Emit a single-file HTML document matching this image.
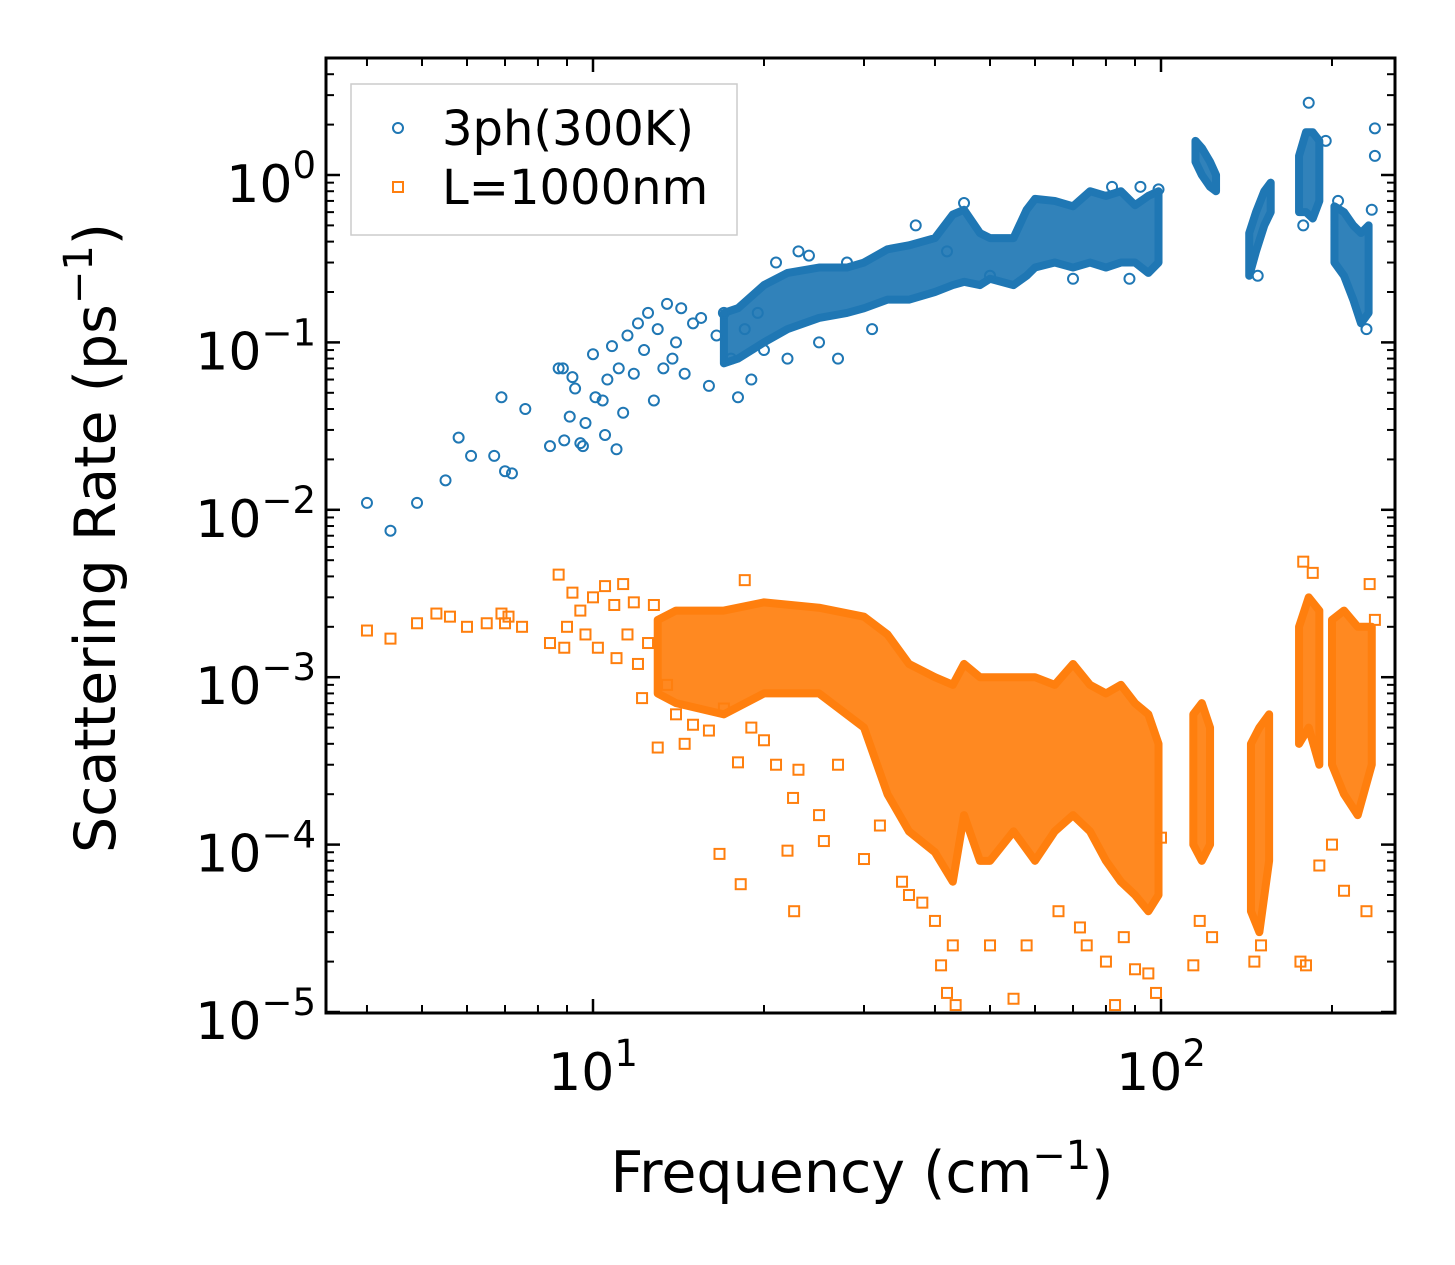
<!DOCTYPE html>
<html><head><meta charset="utf-8"><style>
body{margin:0;background:#fff}
svg{display:block;font-family:"DejaVu Sans","Liberation Sans",sans-serif}
</style></head><body>
<svg id="chart" width="1455" height="1265" viewBox="0 0 1455 1265" xmlns="http://www.w3.org/2000/svg">
<rect width="1455" height="1265" fill="#fff"/>
<g id="bands"></g><g id="points"></g><g id="axes"></g>
<text x="862" y="1192" font-size="57" text-anchor="middle">Frequency (cm<tspan dy="-23" font-size="40">−1</tspan><tspan dy="23">)</tspan></text>
<text transform="translate(115,538) rotate(-90)" font-size="57" text-anchor="middle">Scattering Rate (ps<tspan dy="-23" font-size="40">−1</tspan><tspan dy="23">)</tspan></text>
<g>
<rect x="351" y="84" width="386" height="151" fill="#fff" stroke="#ccc" stroke-width="1.5"/>
<circle cx="398" cy="128" r="5" fill="none" stroke="#1f77b4" stroke-width="2"/>
<text x="442" y="145" font-size="48">3ph(300K)</text>
<rect x="393" y="182" width="10" height="10" fill="none" stroke="#ff7f0e" stroke-width="2"/>
<text x="442" y="204" font-size="48">L=1000nm</text>
</g>
</svg>
<script>
const blueBand=[[17,0.075,0.15],[18,0.08,0.16],[20,0.1,0.22],[22,0.12,0.26],[25,0.14,0.28],[28,0.15,0.28],[30,0.16,0.3],[33,0.18,0.36],[36,0.18,0.38],[40,0.2,0.42],[43,0.22,0.58],[45,0.23,0.62],[48,0.22,0.45],[50,0.24,0.42],[55,0.22,0.42],[58,0.25,0.62],[60,0.28,0.72],[65,0.3,0.7],[70,0.28,0.65],[75,0.3,0.8],[80,0.28,0.75],[85,0.3,0.8],[90,0.3,0.66],[95,0.26,0.75],[99,0.3,0.8]];
const blueClusters=[[[115,1.2,1.6],[118,1.0,1.45],[122,0.85,1.2],[125,0.8,1.0]],[[143,0.25,0.45],[147,0.35,0.6],[152,0.5,0.8],[156,0.6,0.9]],[[175,0.6,1.3],[180,0.6,1.8],[185,0.55,1.8],[190,0.7,1.6]],[[202,0.3,0.65],[210,0.25,0.6],[218,0.18,0.5],[225,0.13,0.45],[232,0.15,0.5]]];
const orangeBand=[[13,0.0008,0.0022],[14,0.0007,0.0025],[17,0.0006,0.0025],[20,0.0008,0.0028],[25,0.0008,0.0026],[30,0.0005,0.0023],[33,0.0002,0.0018],[36,0.00012,0.0012],[40,0.00009,0.001],[43,0.00006,0.0009],[45,0.00015,0.0012],[48,0.00008,0.001],[50,0.00008,0.001],[55,0.00012,0.001],[60,0.00008,0.001],[65,0.00012,0.0009],[70,0.00015,0.0012],[75,0.00012,0.0009],[80,0.00008,0.0008],[85,0.00006,0.0009],[90,0.00005,0.0007],[95,0.00004,0.0006],[99,0.00005,0.0004]];
const orangeClusters=[[[114,0.0001,0.0006],[118,0.00008,0.0007],[122,0.0001,0.0005]],[[144,0.00004,0.0004],[149,0.00003,0.0005],[155,0.00008,0.0006]],[[175,0.0004,0.002],[182,0.0005,0.003],[190,0.0003,0.0025]],[[200,0.0003,0.0022],[210,0.0002,0.0025],[222,0.00015,0.002],[235,0.0003,0.002]]];
const bluePts=[[4,0.011],[4.4,0.0075],[4.9,0.011],[5.5,0.015],[5.8,0.027],[6.1,0.021],[6.7,0.021],[6.9,0.047],[7,0.017],[7.2,0.0165],[7.6,0.04],[8.4,0.024],[8.7,0.07],[8.85,0.07],[8.9,0.026],[9.1,0.036],[9.2,0.062],[9.3,0.053],[9.5,0.025],[9.6,0.024],[9.7,0.033],[10,0.085],[10.1,0.047],[10.4,0.045],[10.5,0.028],[10.6,0.06],[10.8,0.095],[11,0.023],[11.1,0.07],[11.3,0.038],[11.5,0.11],[11.8,0.065],[12,0.13],[12.3,0.09],[12.5,0.15],[12.8,0.045],[13,0.12],[13.3,0.07],[13.5,0.17],[13.8,0.08],[14,0.1],[14.3,0.16],[14.5,0.065],[15,0.13],[15.5,0.14],[16,0.055],[16.5,0.11],[17,0.15],[17.5,0.08],[18,0.047],[18.5,0.12],[19,0.06],[19.5,0.15],[20,0.09],[21,0.3],[22,0.08],[23,0.35],[24,0.33],[25,0.1],[27,0.08],[28,0.3],[31,0.12],[37,0.5],[42,0.35],[45,0.68],[50,0.25],[70,0.24],[82,0.85],[88,0.24],[92,0.85],[99,0.82],[230,0.12],[235,0.62],[238,1.3],[238,1.9],[182,2.7],[178,0.5],[195,1.6],[205,0.7],[148,0.25]];
const orangePts=[[4,0.0019],[4.4,0.0017],[4.9,0.0021],[5.3,0.0024],[5.6,0.0023],[6,0.002],[6.5,0.0021],[6.9,0.0024],[7,0.0021],[7.1,0.0023],[7.5,0.002],[8.4,0.0016],[8.7,0.0041],[8.9,0.0015],[9,0.002],[9.2,0.0032],[9.5,0.0025],[9.7,0.0018],[10,0.003],[10.2,0.0015],[10.5,0.0035],[10.9,0.0027],[11,0.0013],[11.3,0.0036],[11.5,0.0018],[11.8,0.0028],[12,0.0012],[12.2,0.00075],[12.5,0.0016],[12.8,0.0027],[13,0.00038],[13.5,0.0009],[14,0.0006],[14.5,0.0004],[15,0.00052],[16,0.00048],[16.7,0.000088],[17,0.00065],[18,0.00031],[18.2,0.000058],[18.5,0.0038],[19,0.0005],[20,0.00042],[21,0.0003],[22,0.000092],[22.5,0.00019],[22.6,0.00004],[23,0.00028],[25,0.00015],[25.5,0.000105],[27,0.0003],[30,0.000082],[32,0.00013],[35,0.00006],[36,0.00005],[38,0.000045],[40,0.000035],[41,0.000019],[42,0.000013],[43,0.000025],[43.5,0.000011],[50,0.000025],[55,0.000012],[58,0.000025],[66,0.00004],[72,0.000032],[74,0.000025],[80,0.00002],[83,0.000011],[86,0.000028],[90,0.000018],[95,0.000017],[98,0.000013],[100,0.00011],[114,0.000019],[117,0.000035],[123,0.000028],[146,0.00002],[150,0.000025],[176,0.00002],[180,0.000019],[190,0.000075],[200,0.0001],[210,0.000053],[230,0.00004],[178,0.0049],[185,0.0042],[233,0.0036],[238,0.0022]];

const X0=593,PX=568,Y0=175,PY=167.4;
const xs=v=>X0+(Math.log10(v)-1)*PX;
const ys=v=>Y0-Math.log10(v)*PY;
const NS="http://www.w3.org/2000/svg";
const bands=document.getElementById('bands'),pts=document.getElementById('points'),axes=document.getElementById('axes');
function band(arr,color,name){
  const up=arr.map(d=>xs(d[0])+','+ys(d[2]));
  const lo=arr.slice().reverse().map(d=>xs(d[0])+','+ys(d[1]));
  const p=document.createElementNS(NS,'polygon');
  
  
  p.setAttribute('points',up.concat(lo).join(' '));
  p.setAttribute('fill',color);p.setAttribute('fill-opacity','0.92');
  p.setAttribute('stroke',color);p.setAttribute('stroke-width','8');p.setAttribute('stroke-linejoin','round');
  bands.appendChild(p);
}
band(blueBand,'#1f77b4','blue-dense-band');
blueClusters.forEach(c=>band(c,'#1f77b4','blue-cluster'));
band(orangeBand,'#ff7f0e','orange-dense-band');
orangeClusters.forEach(c=>band(c,'#ff7f0e','orange-cluster'));
bluePts.forEach(d=>{
  const c=document.createElementNS(NS,'circle');
  
  
  c.setAttribute('cx',xs(d[0]));c.setAttribute('cy',ys(d[1]));c.setAttribute('r',5);
  c.setAttribute('fill','none');c.setAttribute('stroke','#1f77b4');c.setAttribute('stroke-width',2);
  pts.appendChild(c);
});
orangePts.forEach(d=>{
  const r=document.createElementNS(NS,'rect');
  
  
  r.setAttribute('x',xs(d[0])-5);r.setAttribute('y',ys(d[1])-5);r.setAttribute('width',10);r.setAttribute('height',10);
  r.setAttribute('fill','none');r.setAttribute('stroke','#ff7f0e');r.setAttribute('stroke-width',2);
  pts.appendChild(r);
});
const L=326,R=1395,T=58,B=1013;
const cp=document.createElementNS(NS,'clipPath');cp.setAttribute('id','clip');
const cr=document.createElementNS(NS,'rect');cr.setAttribute('x',L);cr.setAttribute('y',T);cr.setAttribute('width',R-L);cr.setAttribute('height',B-T);
cp.appendChild(cr);document.getElementById('chart').appendChild(cp);
bands.setAttribute('clip-path','url(#clip)');pts.setAttribute('clip-path','url(#clip)');
function line(x1,y1,x2,y2,w,name){
  const l=document.createElementNS(NS,'line');
  
  
  l.setAttribute('x1',x1);l.setAttribute('y1',y1);l.setAttribute('x2',x2);l.setAttribute('y2',y2);
  l.setAttribute('stroke','#000');l.setAttribute('stroke-width',w);axes.appendChild(l);
}
const xMajor=[10,100],xMinor=[4,5,6,7,8,9,20,30,40,50,60,70,80,90,200];
xMajor.forEach(v=>{const x=xs(v);line(x,B,x,B-14,2.5,'x-major-tick');line(x,T,x,T+14,2.5,'x-major-tick-top');});
xMinor.forEach(v=>{const x=xs(v);line(x,B,x,B-8,2,'x-minor-tick');line(x,T,x,T+8,2,'x-minor-tick-top');});
const yExp=[0,-1,-2,-3,-4,-5];
yExp.forEach(e=>{const y=ys(Math.pow(10,e));line(L,y,L+14,y,2.5,'y-major-tick');line(R,y,R-14,y,2.5,'y-major-tick-right');
  for(let k=2;k<10;k++){const yy=ys(k*Math.pow(10,e));if(yy>T&&yy<B){line(L,yy,L+8,yy,2,'y-minor-tick');line(R,yy,R-8,yy,2,'y-minor-tick-right');}}});
const frame=document.createElementNS(NS,'rect');


frame.setAttribute('x',L);frame.setAttribute('y',T);frame.setAttribute('width',R-L);frame.setAttribute('height',B-T);
frame.setAttribute('fill','none');frame.setAttribute('stroke','#000');frame.setAttribute('stroke-width',3);axes.appendChild(frame);
function tlabel(x,y,exp,anchor,name){
  const t=document.createElementNS(NS,'text');
  
  
  t.setAttribute('x',x);t.setAttribute('y',y);t.setAttribute('font-size',52);t.setAttribute('text-anchor',anchor);
  t.innerHTML='10<tspan dy="-24" font-size="37">'+exp+'</tspan>';axes.appendChild(t);
}
const xTickLabels=['1','2'];
xMajor.forEach((v,i)=>tlabel(xs(v),1090,xTickLabels[i],'middle','x-tick-label'));
const yTickLabels=['0','−1','−2','−3','−4','−5'];
yExp.forEach((e,i)=>tlabel(316,ys(Math.pow(10,e))+27,yTickLabels[i],'end','y-tick-label'));
</script>
</body></html>
